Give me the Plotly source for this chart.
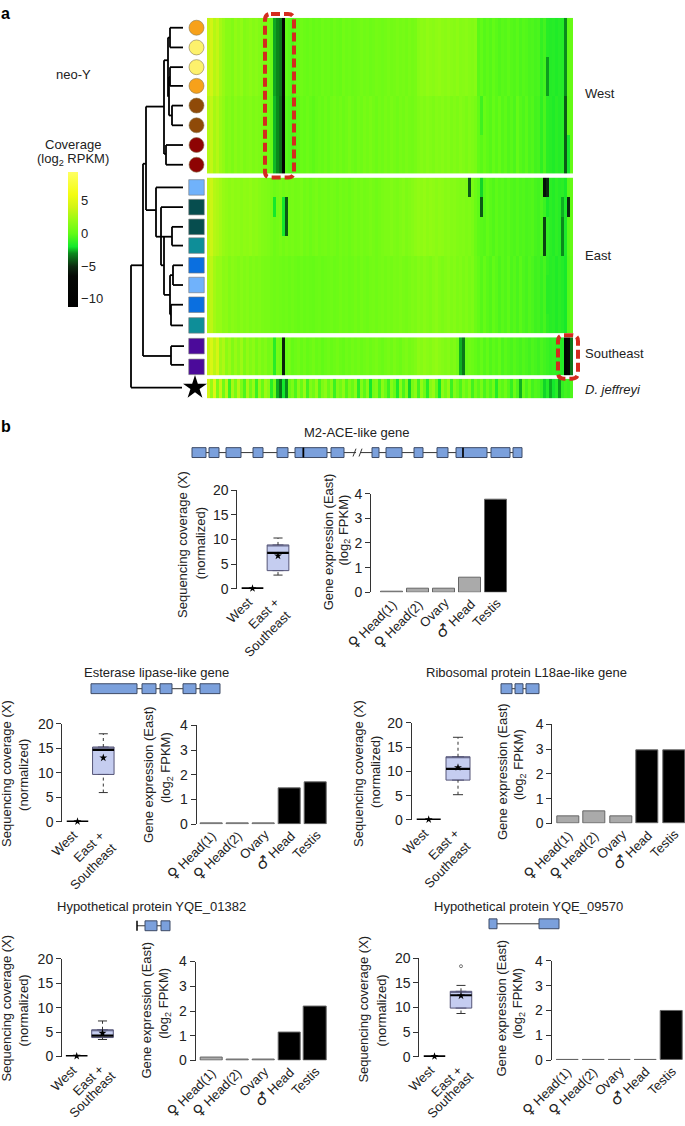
import plotly.graph_objects as go

W, H = 685, 1126
FONT = "Liberation Sans, Arial, sans-serif"
TXT = "#222222"

# ---------- panel a data: one value per 3px wide column ----------
west_upper = [3.5,4,3,3.5,2.5,2,1.5,1.5,1.2,1.8,
              1.5,1.8,1.2,1.4,1.6,1.3,1.5,1.2,1,0.9,
              0.8,0.3,-2.7,-3.1,-3.4,-7.5,0,-0.2,-0.5,0,
              0.2,0.5,0.3,0.2,0.4,0.1,0.3,0.2,0.5,0.3,
              0.4,0.2,0.5,0.3,0.2,0.6,0.4,0.5,0.3,0.4,
              0.5,0.7,0.5,0.6,0.4,0.5,0.7,0.6,0.5,0.6,
              0.8,0.6,0.7,0.9,0.7,0.8,0.6,0.9,0.7,0.8,
              1.4,1.6,1.5,1.8,1.6,1.5,1.7,1.8,1.6,1.5,
              1.7,1.5,1.4,1.6,1.3,1.4,1.5,1.3,1.2,1.4,
              -0.2,0,-0.3,-0.1,-0.3,0,-0.2,-0.4,-0.2,-0.3,
              -0.1,-0.3,-0.4,-0.2,-0.5,-0.3,-0.4,-0.6,-0.5,-0.7,
              -0.6,-1.2,-0.8,-1.5,-1.6,-1.5,-1.7,-1.5,-1.6,-3,
              0,0.2]
west_lower = [3,3.5,2.5,3,2.2,1.8,1.2,1.4,1,1.5,
              1.2,1.4,1,1.2,1.3,1,1.2,1,0.8,0.7,
              0.6,0.2,-2.5,-3,-3.6,-8,-0.2,-0.4,-0.6,-0.3,
              -0.1,0.3,0.1,0.4,0.1,-0.1,0.2,0.4,0.2,0.5,
              0.2,0.5,0.7,0.4,0.6,0.3,0.5,0.8,0.5,0.3,
              0.7,0.5,0.8,0.6,0.9,0.6,0.4,0.7,0.5,0.8,
              0.6,0.9,0.7,0.5,0.8,0.6,0.9,0.7,0.6,0.8,
              1.1,1.3,1.1,1.4,1.2,1,1.3,1.2,1.4,1.1,
              1.3,1,1.2,1,1.3,1.1,0.9,1.2,1,0.8,
              0,-0.2,0.2,-0.1,-0.3,0.1,-0.2,0.1,-0.3,-0.1,
              -0.4,-0.2,-0.5,0.1,-0.3,-0.5,-0.2,-0.6,-0.4,-0.8,
              -0.7,-1.3,-0.6,-1.4,-1.5,-1.7,-1.4,-1.6,-1.5,-2.8,
              -0.1,0.1]
east_upper = [3.4,3.8,3,2.8,2.4,2,1.8,1.6,1.8,1.6,
              1.7,1.5,1.7,1.6,1.8,1.5,1.6,1.4,1.2,1.1,
              1,0.8,0.5,0.7,0.9,0.6,0.9,0.7,0.8,0.6,
              0.7,0.9,0.5,0.7,0.4,0.6,0.8,0.5,0.6,0.7,
              0.5,0.7,0.6,0.4,0.7,0.5,0.6,0.4,0.6,0.8,
              0.6,0.8,0.6,0.7,0.9,0.7,0.5,0.7,0.9,1,
              1,1.2,1,0.9,1.1,1.3,1,1.2,1.4,1.6,
              1.8,1.7,1.9,1.6,1.8,1.7,1.5,1.7,1.6,1.4,
              1.5,1.3,1.4,1.2,1.1,1.2,1,1.1,0.9,0.3,
              -0.1,-0.2,-0.3,0,-0.2,-0.4,-0.1,-0.3,-0.2,-0.4,
              -0.2,-0.4,-0.5,-0.3,-0.5,-0.4,-0.6,-0.5,-0.4,-0.7,
              -0.8,-0.6,-1,-1.2,-1.4,-1.6,-1.3,-1.5,-1.4,-1.8,
              -0.2,0.1]
east_lower = [3,3.3,2.4,2,2,1.5,1.6,1.2,1.5,1.3,
              1.1,1.4,1.1,1.3,1,1.2,1,1.1,0.9,0.8,
              0.8,0.6,0.5,0.6,0.5,0.4,0.5,0.3,0.5,0.3,
              0.2,0.4,0.2,0.3,0.2,0.1,0.3,0.4,0.2,0.3,
              0.4,0.5,0.3,0.4,0.6,0.4,0.5,0.3,0.4,0.6,
              0.4,0.7,0.5,0.4,0.6,0.7,0.5,0.7,0.8,0.6,
              0.8,0.7,0.9,0.8,1,0.8,0.7,0.9,1.1,1,
              1.3,1.1,1.4,1.2,1,1.3,1.5,1.2,1,1.2,
              1.4,1.1,1.3,1,1.2,0.9,1.1,0.8,1,0.4,
              0,-0.3,0.1,-0.2,-0.4,0,-0.2,-0.5,-0.2,-0.4,
              -0.1,-0.5,-0.3,-0.6,-0.2,-0.5,-0.7,-0.4,-0.6,-0.9,
              -0.8,-1.1,-0.7,-1.3,-1.5,-1.4,-1.7,-1.4,-1.6,-1.9,
              -0.3,0]
se_row = [3.6,4.4,3.2,4.2,2.2,2.8,1.6,2.2,1.2,2,
          1.4,2.2,1,1.8,1.2,1.6,0.8,1.4,0.9,1.2,
          0.7,0.9,-1.5,0.8,0.5,-5.5,0.2,0.6,0.1,0.4,
          0.6,0.2,0.5,0.1,0.3,0.6,0.2,0.4,0,0.3,
          0.5,0.2,0.4,0.6,0.3,0.1,0.5,0.3,0.6,0.4,
          0.6,0.3,0.5,0.7,0.4,0.6,0.8,0.5,0.3,0.6,
          0.8,0.5,0.9,0.6,0.4,0.8,1,0.7,0.9,1.1,
          1.6,1.4,1.7,1.5,1.3,1.6,1.8,1.5,1.3,1.1,
          1.3,0.9,1.1,0.6,-2.6,-3.4,0.2,0.5,0.3,0,
          -0.2,0.1,-0.3,0,-0.4,-0.1,-0.3,0,-0.5,-0.2,
          -0.4,-0.6,-0.3,-0.5,-0.7,-0.4,-0.6,-0.8,-0.5,-0.7,
          -0.9,-0.6,-0.8,-1,-1.2,-1.1,-1.3,-1.4,-1.6,-9.5,
          -7,-3.4]
jeffreyi_row = [4,2,4.5,1,3.5,0.5,3,-1,2.5,0.8,
                3,1.2,-0.5,2.5,0.5,2,-1,2,0.2,2.2,
                1.5,-1.5,0.5,-2.6,-3.5,-2,-3,0.2,1,-0.5,
                1.5,0.2,2,-0.8,1.2,0.5,1.8,-0.5,1,1.6,
                0.2,1.4,-1,1.2,0.5,1.6,-0.3,1,0.2,1.5,
                -1.5,1.2,-0.2,1.4,-2,0.8,1.2,-0.8,1.5,0.4,
                -1,1.3,0.3,-1.8,1.5,-0.6,1.2,-2.2,0.8,1.6,
                -0.8,1.8,0.5,-1.5,1.4,2,0.2,-2,1.6,0.6,
                1.8,-1,1.2,0.4,-0.6,1,0.2,1.2,-0.8,0.6,
                -0.2,0.8,-0.6,0.4,-0.4,0.6,-1.6,0.3,-0.2,0.5,
                -0.3,-1.2,0.4,-0.5,-2.6,0.2,-0.6,0,-0.8,-0.4,
                -0.6,-1,-2.2,-1.6,-2.6,-2,-1.5,-2.8,-1.2,-0.8,
                -1,-0.5]

# (first row, last row, column, value) narrow dark stripes on top of the profiles
west_stripes = [(2, 3, 113, -2.8), (4, 7, 119, -4), (6, 7, 120, -2), (4, 5, 91, -0.9)]
east_stripes = [(0, 0, 87, -4), (0, 0, 91, -2.2), (0, 0, 112, -6), (0, 0, 113, -5),
                (1, 1, 91, -4), (1, 1, 113, -1.8), (1, 1, 118, -2.6), (1, 1, 120, -5),
                (2, 3, 112, -4.5), (2, 3, 118, -3), (1, 2, 26, -4), (1, 1, 22, -2),
                (1, 2, 25, -2), (5, 6, 113, -1.5)]

bands = {
    "West": (west_upper, west_upper, west_upper, west_upper, west_lower, west_lower, west_lower, west_lower),
    "East": (east_upper, east_upper, east_upper, east_upper, east_lower, east_lower, east_lower, east_lower),
    "Southeast": (se_row, se_row),
    "jeffreyi": (jeffreyi_row,),
}
stripes = {"West": west_stripes, "East": east_stripes, "Southeast": [], "jeffreyi": []}
band_pos = {"West": (10, 168), "East": (172, 330), "Southeast": (334, 373), "jeffreyi": (376, 396)}

cmin, cmax = -11.2, 9.4
cov_stops = [(-11.2, "#000000"), (-6.5, "#050805"), (-5, "#0c2a10"), (-3, "#0a8a1c"),
             (-2, "#14e82c"), (0, "#62fb16"), (2, "#96fb14"), (4, "#d2f414"),
             (6, "#f4fd12"), (9.4, "#ffff62")]
cov_ticks = [5, 0, -5, -10]
cov_ticktext = ["5", "0", "\u22125", "\u221210"]

# tree tips
tip_y = [20, 40, 60, 79, 99, 119, 139, 159]
tip_colors = ["#f7a11a", "#fdf16c", "#fdf16c", "#f7a11a", "#8f4a08", "#8f4a08", "#8e0303", "#8e0303"]
sq_y = [182, 202, 222, 241, 261, 281, 301, 322, 343, 364]
sq_colors = ["#70b2fb", "#064d4e", "#064d4e", "#0e8e98", "#0a6fe0", "#70b2fb", "#0a6fe0", "#0e8e98", "#4b0a9a", "#4b0a9a"]

tree_segments = [
    (183,20,170,20),(183,40,170,40),(170,20,170,40),(170,30,168,30),
    (183,60,170,60),(183,79,170,79),(170,60,170,79),(183,99,172,99),(183,119,172,119),(172,99,172,119),
    (170,70,169,70),(172,109,169,109),(169,70,169,109),(168,30,168,90),(168,53,164,53),
    (183,139,166,139),(183,159,166,159),(166,139,166,159),(166,148,164,148),(164,53,164,148),
    (164,100,146,100),(146,100,146,205),(146,158,143,158),(143,158,143,353),
    (146,205,156,205),(183,182,156,182),(156,182,156,232),(156,232,161,232),
    (183,202,161,202),(161,202,161,261),(183,222,172,222),(183,241,172,241),(172,222,172,241),(172,232,161,232),
    (161,261,164,261),(164,232,164,291),(164,291,170,291),(183,261,173,261),(183,281,173,281),(173,261,173,281),
    (173,271,170,271),(183,301,171,301),(183,322,171,322),(171,301,171,322),(171,311,170,311),(170,271,170,311),
    (143,353,171,353),(184,343,171,343),(184,362,171,362),(171,343,171,362),
    (143,261,131,261),(131,261,131,385),(131,385,182,385),
]

# ---------- panel b data ----------
gene_titles = ["M2-ACE-like gene", "Esterase lipase-like gene", "Ribosomal protein L18ae-like gene",
               "Hypothetical protein YQE_01382", "Hypothetical protein YQE_09570"]
sym = '<span style="font-family:DejaVu Sans;font-size:15px">%s</span>'
tissues = [sym % "\u2640" + " Head(1)", sym % "\u2640" + " Head(2)", "Ovary", sym % "\u2642" + " Head", "Testis"]

gene1_exons = [(192,206),(209,219),(226,241),(253,263),(277,288),(295,303),(303,327),(331,344),
               (372,379),(386,402),(414,423),(437,448),(456,463),(463,487),(491,510),(513,522)]
gene2_exons = [(91,137),(142,156),(160,172),(183,196),(200,220)]
gene3_exons = [(501,512),(515,523),(526,539)]
gene4_exons = [(145,157),(161,170)]
gene5_exons = [(489,497),(539,559)]

expr1 = [0.02, 0.13, 0.13, 0.58, 3.75]
expr2 = [0.02, 0.02, 0.02, 1.45, 1.70]
expr3 = [0.27, 0.49, 0.27, 2.97, 2.97]
expr4 = [0.14, 0.02, 0.02, 1.15, 2.18]
expr5 = [0.02, 0.02, 0.02, 0.02, 2.00]
G, K = "#aaaaaa", "#000000"
expr1_colors = [G, G, G, G, K]
expr2_colors = [G, G, G, K, K]
expr3_colors = [G, G, G, K, K]
expr4_colors = [G, G, G, K, K]
expr5_colors = [G, G, G, G, K]

# lower whisker, q1, median, q3, upper whisker, mean
box1 = [2.8, 3.7, 7.3, 8.9, 10.3, 6.7]
box2 = [6.0, 9.7, 14.7, 15.3, 18.0, 13.1]
box3 = [5.2, 8.2, 10.5, 13.0, 17.0, 10.8]
box4 = [3.5, 3.9, 4.3, 5.5, 7.3, 4.8]
box5 = [8.8, 9.9, 12.5, 13.3, 14.5, 12.4]
west_level = 0.1

fig = go.Figure()
layout = {}
shapes = []
annots = []


def add_axes(n, x0, x1, ytop, ybot, xrange, yrange, **yopts):
    layout["xaxis%d" % n] = dict(domain=[x0 / W, x1 / W], range=xrange, visible=False, fixedrange=True,
                                 anchor="y%d" % n)
    layout["yaxis%d" % n] = dict(domain=[1 - ybot / H, 1 - ytop / H], range=yrange, fixedrange=True,
                                 anchor="x%d" % n, **yopts)
    return "x%d" % n, "y%d" % n


def text(s, x, y, size=13, angle=0, xa="center", ya="middle", color=TXT):
    annots.append(dict(text=s, x=x, y=y, xref="x", yref="y", showarrow=False, textangle=angle,
                       xanchor=xa, yanchor=ya, font=dict(family=FONT, size=size, color=color),
                       borderpad=0, borderwidth=0))


# overlay axes in page pixels for the tree, gene models and labels
add_axes(1, 0, W, 0, H, [0, W], [H, 0], visible=False)

# heat map bands
norm = [[(v - cmin) / (cmax - cmin), c] for v, c in cov_stops]
n = 2
for band, rows in bands.items():
    z = [list(r) for r in rows]
    for r0, r1, col, val in stripes[band]:
        for r in range(r0, r1 + 1):
            z[r][col] = val
    ytop, ybot = band_pos[band]
    xa, ya = add_axes(n, 207, 573, ytop, ybot, [-0.5, 121.5], [len(z) - 0.5, -0.5], visible=False)
    fig.add_trace(go.Heatmap(z=z, xaxis=xa, yaxis=ya, coloraxis="coloraxis", hoverinfo="skip"))
    n += 1

# tree
tx, ty = [], []
for x0, y0, x1, y1 in tree_segments:
    tx += [x0, x1, None]
    ty += [y0, y1, None]
fig.add_trace(go.Scatter(x=tx, y=ty, mode="lines", line=dict(color="#000000", width=1.8), xaxis="x", yaxis="y",
                         hoverinfo="skip", showlegend=False))
fig.add_trace(go.Scatter(x=[196.5] * len(tip_y), y=tip_y, mode="markers", xaxis="x", yaxis="y", showlegend=False,
                         marker=dict(symbol="circle", size=15, color=tip_colors, line=dict(color="#8a7a50", width=0.6))))
fig.add_trace(go.Scatter(x=[196.5] * len(sq_y), y=sq_y, mode="markers", xaxis="x", yaxis="y", showlegend=False,
                         marker=dict(symbol="square", size=15.5, color=sq_colors, line=dict(color="#777777", width=0.6))))
fig.add_trace(go.Scatter(x=[195], y=[385], mode="markers", xaxis="x", yaxis="y", showlegend=False,
                         marker=dict(symbol="star", size=18, color="#000000")))


def round_box(x0, y0, x1, y1, r=6):
    return ("M %g %g L %g %g Q %g %g %g %g L %g %g Q %g %g %g %g L %g %g Q %g %g %g %g L %g %g Q %g %g %g %g Z" %
            (x0 + r, y0, x1 - r, y0, x1, y0, x1, y0 + r, x1, y1 - r, x1, y1, x1 - r, y1,
             x0 + r, y1, x0, y1, x0, y1 - r, x0, y0 + r, x0, y0, x0 + r, y0))


for box in [(265, 6, 294, 172), (558, 332, 578, 376)]:
    shapes.append(dict(type="path", path=round_box(*box), xref="x", yref="y", layer="above",
                       line=dict(color="#d42b1e", width=4, dash="9px,4px")))

text("<b>a</b>", 1, 6, size=16, xa="left", color="#000000")
text("<b>b</b>", 1, 425, size=16, xa="left", color="#000000")
text("neo-Y", 73, 67)
text("Coverage", 73, 138)
text("(log<sub>2</sub> RPKM)", 73, 154)
text("West", 585, 87, xa="left")
text("East", 585, 251, xa="left")
text("Southeast", 585, 350, xa="left")
text("<i>D. jeffreyi</i>", 585, 387, xa="left")

# placement of each panel: title, gene row, box axes, bar axes, axis titles
panels = [
    dict(title=gene_titles[0], tx=357, ty=431, gy=451, exons=gene1_exons, ticks=[(303.5, 451), (463, 451)],
         introns=[(192, 356), (361, 522)], box=box1, blx=237.3, bty=489, bby=589.3, wx=252.5, bx=278, bw=21.7,
         expr=expr1, colors=expr1_colors, rlx=371, rty=492.7, rby=592.7, r1=392.2, rd=26, rw=22.3, se=(16, 19),
         st=(182.7, 544), nt=(200, 543), et=(328, 542), lt=(344, 530)),
    dict(title=gene_titles[1], tx=156, ty=674, gy=690.5, exons=gene2_exons, ticks=[],
         introns=[(91, 220)], box=box2, blx=62.3, bty=726.3, bby=825.7, wx=77.5, bx=103.3, bw=21.5,
         expr=expr2, colors=expr2_colors, rlx=196.7, rty=727.7, rby=828, r1=212, rd=26, rw=22.3, se=(16, 19),
         st=(7, 777), nt=(24, 778), et=(149, 778), lt=(166, 771)),
    dict(title=gene_titles[2], tx=526, ty=674, gy=690.5, exons=gene3_exons, ticks=[],
         introns=[(501, 539)], box=box3, blx=411.7, bty=725, bby=823.7, wx=428.7, bx=458, bw=24,
         expr=expr3, colors=expr3_colors, rlx=552.3, rty=726.7, rby=827.3, r1=568, rd=26.5, rw=22.3, se=(16, 19),
         st=(359, 777), nt=(376, 775), et=(503, 775), lt=(519, 768)),
    dict(title=gene_titles[3], tx=151, ty=911, gy=931, exons=gene4_exons, ticks=[(137, 931)],
         introns=[(137, 170)], box=box4, blx=62, bty=964.7, bby=1063.7, wx=76.7, bx=102.5, bw=21.6,
         expr=expr4, colors=expr4_colors, rlx=195.7, rty=967.3, rby=1067.7, r1=211.7, rd=25.9, rw=22.3, se=(16, 12),
         st=(7, 1015), nt=(24, 1017), et=(147, 1017), lt=(165, 1010)),
    dict(title=gene_titles[4], tx=528, ty=911, gy=929, exons=gene5_exons, ticks=[],
         introns=[(489, 559)], box=box5, blx=419.3, bty=964, bby=1064, wx=434.5, bx=461, bw=21.5,
         expr=expr5, colors=expr5_colors, rlx=551.7, rty=966.7, rby=1067.3, r1=567.5, rd=26, rw=22.3, se=(16, 12),
         st=(364, 1016), nt=(382, 1017), et=(502, 1015), lt=(519, 1010)),
]

axis_style = dict(showline=True, linecolor="#333333", linewidth=1, ticks="outside", ticklen=5, tickwidth=1,
                  tickcolor="#333333", showgrid=False, zeroline=False,
                  tickfont=dict(family=FONT, size=14, color=TXT))

for p in panels:
    text(p["title"], p["tx"], p["ty"])
    # gene model
    for a, b in p["introns"]:
        shapes.append(dict(type="line", x0=a, x1=b, y0=p["gy"], y1=p["gy"], xref="x", yref="y",
                           line=dict(color="#333333", width=1)))
    for a, b in p["exons"]:
        shapes.append(dict(type="rect", x0=a, x1=b, y0=p["gy"] - 5, y1=p["gy"] + 5, xref="x", yref="y",
                           fillcolor="#7ba0dc", line=dict(color="#3d4a66", width=1)))
    for tick_x, tick_y in p["ticks"]:
        shapes.append(dict(type="line", x0=tick_x, x1=tick_x, y0=tick_y - 5, y1=tick_y + 5, xref="x", yref="y",
                           line=dict(color="#000000", width=1.5)))

    # box plot axes, units of one category spacing
    d = p["bx"] - p["wx"]
    xr = [1 - (p["wx"] - p["blx"]) / d, 2 + (p["bw"] / 2 + 3) / d]
    xa, ya = add_axes(n, p["blx"], p["bx"] + p["bw"] / 2 + 3, p["bty"], p["bby"], xr, [0, 20],
                      tickvals=[0, 5, 10, 15, 20], **axis_style)
    n += 1
    lo, q1, med, q3, hi, mean = p["box"]
    bw = p["bw"] / d
    cap = bw * 0.42
    fig.add_trace(go.Scatter(x=[2, 2, None, 2, 2], y=[lo, q1, None, q3, hi], mode="lines", xaxis=xa, yaxis=ya,
                             line=dict(color="#333333", width=1, dash="3px,3px"), showlegend=False, hoverinfo="skip"))
    fig.add_trace(go.Scatter(x=[2 - cap / 2, 2 + cap / 2, None, 2 - cap / 2, 2 + cap / 2], y=[lo, lo, None, hi, hi],
                             mode="lines", xaxis=xa, yaxis=ya, line=dict(color="#333333", width=1),
                             showlegend=False, hoverinfo="skip"))
    fig.add_trace(go.Box(x=[2], q1=[q1], median=[q3], q3=[q3], lowerfence=[q1], upperfence=[q3], width=bw,
                         xaxis=xa, yaxis=ya, fillcolor="#c5cdf0", line=dict(color="#555577", width=1),
                         showlegend=False, hoverinfo="skip"))
    fig.add_trace(go.Scatter(x=[2 - bw / 2, 2 + bw / 2, None, 1 - bw / 2, 1 + bw / 2], y=[med, med, None, west_level, west_level],
                             mode="lines", xaxis=xa, yaxis=ya, line=dict(color="#000000", width=2.2), cliponaxis=False,
                             showlegend=False, hoverinfo="skip"))
    fig.add_trace(go.Scatter(x=[1, 2], y=[west_level, mean], mode="markers", xaxis=xa, yaxis=ya, cliponaxis=False,
                             marker=dict(symbol="star", size=6, color="#000000"), showlegend=False, hoverinfo="skip"))
    if p["box"] is box5:
        fig.add_trace(go.Scatter(x=[2], y=[18.4], mode="markers", xaxis=xa, yaxis=ya, showlegend=False,
                                 marker=dict(symbol="circle-open", size=3, color="#555555", line=dict(width=0.8)),
                                 hoverinfo="skip"))
    text("West", p["wx"] + 3, p["bby"] + 6, angle=-45, xa="right", ya="top")
    text("East +", p["bx"] + 4, p["bby"] + 6, angle=-45, xa="right", ya="top")
    text("Southeast", p["bx"] + p["se"][0], p["bby"] + p["se"][1], angle=-45, xa="right", ya="top")

    # expression bars
    xr = [1 - (p["r1"] - p["rlx"]) / p["rd"], 5 + (p["rw"] / 2 + 1) / p["rd"]]
    xr_end = p["r1"] + 4 * p["rd"] + p["rw"] / 2 + 1
    xa, ya = add_axes(n, p["rlx"], min(xr_end, W), p["rty"], p["rby"],
                      [xr[0], xr[0] + (min(xr_end, W) - p["rlx"]) / p["rd"]], [0, 4],
                      tickvals=[0, 1, 2, 3, 4], **axis_style)
    n += 1
    fig.add_trace(go.Bar(x=[1, 2, 3, 4, 5], y=p["expr"], width=p["rw"] / p["rd"], xaxis=xa, yaxis=ya,
                         marker=dict(color=p["colors"], line=dict(color="#666666", width=1)),
                         showlegend=False, hoverinfo="skip"))
    for i, t in enumerate(tissues):
        text(t, p["r1"] + i * p["rd"] + 8, p["rby"] + 3, angle=-45, xa="right", ya="top")

    text("Sequencing coverage (X)", p["st"][0], p["st"][1], angle=-90)
    text("(normalized)", p["nt"][0], p["nt"][1], angle=-90)
    text("Gene expression (East)", p["et"][0], p["et"][1], angle=-90)
    text("(log<sub>2</sub> FPKM)", p["lt"][0], p["lt"][1], angle=-90)

# break marks in the first gene
fig.add_trace(go.Scatter(x=[353, 356, None, 359, 362], y=[455, 447, None, 455, 447], mode="lines", xaxis="x", yaxis="y",
                         line=dict(color="#333333", width=1), showlegend=False, hoverinfo="skip"))

fig.update_layout(
    width=W, height=H, margin=dict(l=0, r=0, t=0, b=0), paper_bgcolor="white", plot_bgcolor="rgba(0,0,0,0)",
    showlegend=False, bargap=0, font=dict(family=FONT, size=13, color=TXT), shapes=shapes, annotations=annots,
    coloraxis=dict(cmin=cmin, cmax=cmax, colorscale=norm, colorbar=dict(
        x=68 / W, xanchor="left", xpad=0, y=1 - 166 / H, yanchor="top", ypad=0, thicknessmode="pixels", thickness=10,
        lenmode="pixels", len=135, tickvals=cov_ticks, ticktext=cov_ticktext, ticks="", outlinewidth=0,
        tickfont=dict(family=FONT, size=13, color=TXT))),
    **layout)
fig.write_html("out.html", config={"displayModeBar": False}, post_script="document.body.style.margin='0';")
